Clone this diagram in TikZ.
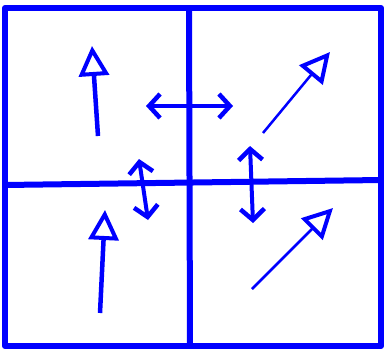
\documentclass[tikz,border=0pt]{standalone}
\usepackage{tikz}
\usetikzlibrary{arrows.meta}

\begin{document}
\begin{tikzpicture}[x=1pt, y=-1pt,
  frame/.style={draw=blue, line width=6pt},
  vec/.style={blue, line width=4.5pt, -{Triangle[open, length=30pt, width=30pt, line width=4pt]}},
  thinvec/.style={blue, line width=2.5pt, -{Triangle[open, length=30pt, width=30pt, line width=4pt]}},
  swap/.style={blue, line width=4pt, {Straight Barb[length=11pt, width=24pt, line width=4.5pt]}-{Straight Barb[length=11pt, width=24pt, line width=4.5pt]}}
]
  \useasboundingbox (0,0) rectangle (385,351);
  % frame and dividers
  \draw[frame, line join=round] (5,8) rectangle (381,346);
  \draw[frame] (189,8) -- (190,346);
  \draw[frame] (5,185) -- (381,180);

  % quadrant vectors
  \coordinate (tlA) at (98,136);  \coordinate (tlB) at (92,46);
  \coordinate (blA) at (100,313); \coordinate (blB) at (105,210);
  \coordinate (trA) at (263,133); \coordinate (trB) at (330,52);
  \coordinate (brA) at (252,289); \coordinate (brB) at (333,208);
  \draw[vec] (tlA) -- (tlB);
  \draw[vec] (blA) -- (blB);
  \draw[thinvec] (trA) -- (trB);
  \draw[thinvec] (brA) -- (brB);

  % swaps across the dividers
  \coordinate (hA) at (146,106); \coordinate (hB) at (233,106);
  \coordinate (lA) at (139,159); \coordinate (lB) at (148,220);
  \coordinate (rA) at (250,146); \coordinate (rB) at (253,223);
  \draw[swap] (hA) -- (hB);
  \draw[swap] (lA) -- (lB);
  \draw[swap] (rA) -- (rB);
\end{tikzpicture}
\end{document}
